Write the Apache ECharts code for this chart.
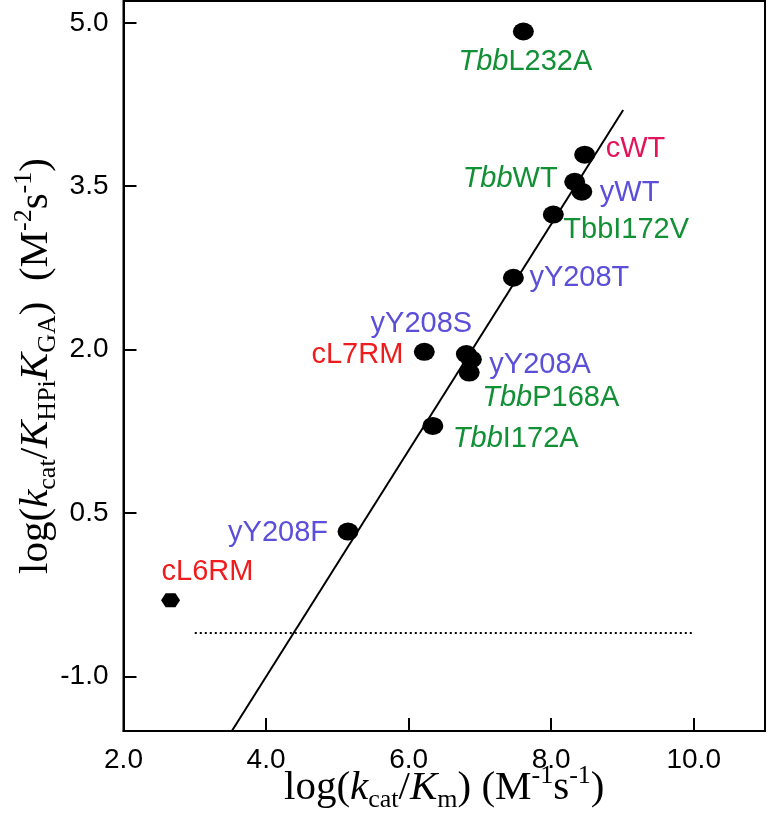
<!DOCTYPE html>
<html><head><meta charset="utf-8">
<script src="https://cdn.jsdelivr.net/npm/echarts@6/dist/echarts.min.js"></script>
<style>html,body{margin:0;padding:0;background:#fff}#c{width:768px;height:822px}</style>
</head><body><div id="c"></div>
<script>
// ---- data ----
const names  = ['TbbL232A','cWT','TbbWT','yWT','TbbI172V','yY208T','yY208S','cL7RM','yY208A','TbbP168A','TbbI172A','yY208F','cL6RM'];
const xVals  = [7.61, 8.47, 8.33, 8.43, 8.03, 7.47, 6.81, 6.22, 6.88, 6.85, 6.34, 5.15, 2.66];
const yVals  = [4.92, 3.79, 3.54, 3.45, 3.24, 2.66, 1.96, 1.98, 1.91, 1.79, 1.30, 0.33, -0.30];
const groups = ['Tbb','cWT','Tbb','yeast','Tbb','yeast','yeast','cRM','yeast','Tbb','Tbb','yeast','cRM'];
const fitLine = [[3.52, -1.5], [9.01, 4.20]];
const thresholdLine = [[3.0, -0.6], [10.0, -0.6]];
const xTicks = [2.0, 4.0, 6.0, 8.0, 10.0];
const yTicks = [-1.0, 0.5, 2.0, 3.5, 5.0];

// ---- style ----
const groupColor = {Tbb:'#129036', yeast:'#5b4fd9', cWT:'#e3145a', cRM:'#ee1c1c'};
const italicTbb = {TbbL232A:true, TbbWT:true, TbbP168A:true, TbbI172A:true};
const labelPlace = {
  TbbL232A:{align:'center', offset:[2,30]},
  cWT:{align:'left', offset:[21,-6]},
  TbbWT:{align:'right', offset:[-17,-3]},
  yWT:{align:'left', offset:[18,1]},
  TbbI172V:{align:'left', offset:[10,15]},
  yY208T:{align:'left', offset:[16,0]},
  yY208S:{align:'center', offset:[-45,-30]},
  cL7RM:{align:'right', offset:[-21,3]},
  yY208A:{align:'left', offset:[18,6]},
  TbbP168A:{align:'left', offset:[13,25]},
  TbbI172A:{align:'left', offset:[20,13]},
  yY208F:{align:'right', offset:[-20,1]},
  cL6RM:{align:'center', offset:[37,-28]}
};
const HEX = 'path://M0,5 L2.9,0 L9.1,0 L12,5 L9.1,10 L2.9,10 Z';
const LF = 'Liberation Sans';
const SERIF = 'Liberation Serif';

const pts = names.map((n, i) => {
  const p = labelPlace[n];
  const txt = italicTbb[n] ? '{it|Tbb}' + n.slice(3) : n;
  const col = groupColor[groups[i]];
  return {
    name: n,
    value: [xVals[i], yVals[i]],
    symbol: n === 'cL6RM' ? HEX : 'circle',
    symbolSize: n === 'cL6RM' ? [19, 14] : [21, 18],
    label: {
      show: true, position: 'inside', formatter: txt,
      align: p.align, verticalAlign: 'middle', offset: p.offset,
      color: col, opacity: 1, fontFamily: LF, fontSize: 29,
      rich: {it: {fontStyle: 'italic', fontFamily: LF, fontSize: 29, color: col}}
    }
  };
});

const titleRich = {
  n: {fontFamily: SERIF, fontSize: 41, lineHeight: 50, color: '#000'},
  i: {fontFamily: SERIF, fontSize: 41, lineHeight: 50, fontStyle: 'italic', color: '#000'},
  s: {fontFamily: SERIF, fontSize: 26, lineHeight: 16, verticalAlign: 'bottom', color: '#000'},
  p: {fontFamily: SERIF, fontSize: 26, lineHeight: 18, verticalAlign: 'top', color: '#000'}
};
const xName = '{n|log(}{i|k}{s|cat}{n|/}{i|K}{s|m}{n|) (M}{p|-1}{n|s}{p|-1}{n|)}';
const yName = '{n|log(}{i|k}{s|cat}{n|/}{i|K}{s|HPi}{i|K}{s|GA}{n|)  (M}{p|-2}{n|s}{p|-1}{n|)}';

const axisLineStyle = {show: true, onZero: false, lineStyle: {color: '#000', width: 2}};
const labelBase = {color: '#000', fontFamily: LF, fontSize: 28, formatter: v => v.toFixed(1)};

const chart = echarts.init(document.getElementById('c'), null, {renderer: 'canvas'});
chart.setOption({
  animation: false,
  backgroundColor: '#fff',
  grid: {left: 123.5, right: 3, top: 1, bottom: 91, show: true, borderColor: '#000', borderWidth: 2,
         containLabel: false, outerBoundsMode: 'none'},
  xAxis: {
    type: 'value', min: 2, max: 11, interval: 2,
    axisLine: axisLineStyle, splitLine: {show: false},
    axisTick: {show: true, inside: true, length: 13, lineStyle: {color: '#000', width: 2}, customValues: xTicks},
    axisLabel: Object.assign({}, labelBase, {margin: 15, customValues: xTicks}),
    name: xName, nameLocation: 'middle', nameGap: 32, nameMoveOverlap: false, nameTextStyle: {rich: titleRich}
  },
  yAxis: {
    type: 'value', min: -1.5, max: 5.2,
    axisLine: axisLineStyle, splitLine: {show: false},
    axisTick: {show: true, inside: true, length: 13, lineStyle: {color: '#000', width: 2}, customValues: yTicks},
    axisLabel: Object.assign({}, labelBase, {margin: 15, customValues: yTicks}),
    name: yName, nameLocation: 'middle', nameRotate: 90, nameGap: 62, nameMoveOverlap: false, nameTextStyle: {rich: titleRich}
  },
  series: [
    {type: 'line', data: fitLine, symbol: 'none', lineStyle: {color: '#000', width: 2}, silent: true, z: 1},
    {type: 'line', data: thresholdLine, symbol: 'none', lineStyle: {color: '#000', width: 2, type: [2, 3]}, silent: true, z: 1},
    {type: 'scatter', data: pts, itemStyle: {color: '#000', opacity: 1}, z: 3}
  ]
});
</script></body></html>
